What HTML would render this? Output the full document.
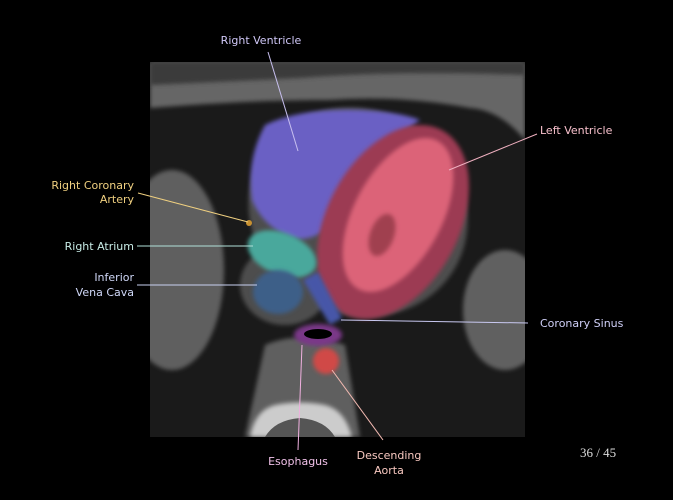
<!DOCTYPE html>
<html><head><style>
html,body{margin:0;padding:0;background:#000;}
svg{display:block}
text{font-family:"DejaVu Sans","Liberation Sans",sans-serif;font-size:11px;}
</style></head><body>
<svg width="673" height="500" viewBox="0 0 673 500" xmlns="http://www.w3.org/2000/svg">
<defs>
<filter id="b" x="-20%" y="-20%" width="140%" height="140%"><feGaussianBlur stdDeviation="2"/></filter>
<clipPath id="c"><rect x="150" y="62" width="375" height="375"/></clipPath>
</defs>
<rect width="673" height="500" fill="#000"/>
<g clip-path="url(#c)">
<rect x="150" y="62" width="375" height="375" fill="#1a1a1a"/>
<!-- chest wall -->
<path d="M150 62 H525 V140 Q500 110 470 108 Q400 95 330 100 Q250 100 150 108 Z" fill="#666" filter="url(#b)"/>
<path d="M150 62 H525 V75 Q400 70 300 78 Q220 82 150 85 Z" fill="#3a3a3a" filter="url(#b)"/>
<!-- left blob -->
<ellipse cx="172" cy="270" rx="52" ry="100" fill="#5e5e5e" filter="url(#b)"/>
<!-- right blob -->
<ellipse cx="505" cy="310" rx="42" ry="60" fill="#606060" filter="url(#b)"/>
<!-- heart -->
<ellipse cx="358" cy="212" rx="112" ry="102" transform="rotate(30 358 212)" fill="#4e4e4e" filter="url(#b)"/>
<ellipse cx="285" cy="285" rx="45" ry="40" fill="#4e4e4e" filter="url(#b)"/>
<!-- spine -->
<path d="M265 345 Q300 330 345 345 L360 437 H245 Z" fill="#5e5e5e" filter="url(#b)"/>
<path d="M250 437 Q255 410 275 405 Q300 400 325 405 Q345 410 352 437 Z" fill="#ccc" filter="url(#b)"/>
<path d="M265 437 Q275 420 300 418 Q325 420 335 437 Z" fill="#555"/>
<!-- RV -->
<path d="M265 125 Q300 108 360 110 Q400 112 420 120 L360 165 Q335 195 323 232 Q305 242 290 238 Q262 225 252 200 Q246 160 265 125 Z" fill="#6a60c4" filter="url(#b)"/>
<!-- LV -->
<ellipse cx="393" cy="222" rx="66" ry="104" transform="rotate(28 393 222)" fill="#9c3a52" filter="url(#b)"/>
<ellipse cx="398" cy="215" rx="44" ry="84" transform="rotate(28 398 215)" fill="#dc6478" filter="url(#b)"/>
<ellipse cx="382" cy="235" rx="12" ry="22" transform="rotate(20 382 235)" fill="#a04050" filter="url(#b)"/>
<!-- RA -->
<ellipse cx="282" cy="254" rx="36" ry="21" transform="rotate(22 282 254)" fill="#4aa89c" filter="url(#b)"/>
<!-- IVC -->
<ellipse cx="278" cy="292" rx="25" ry="22" fill="#3c5e88" filter="url(#b)"/>
<!-- coronary sinus -->
<path d="M303 280 L318 272 L342 318 L330 325 Z" fill="#4656a8" filter="url(#b)"/>
<!-- esophagus -->
<ellipse cx="318" cy="335" rx="24" ry="11" fill="#7a3888" filter="url(#b)"/>
<ellipse cx="318" cy="334" rx="14" ry="5" fill="#000"/>
<!-- aorta -->
<circle cx="326" cy="361" r="13" fill="#d04a46" filter="url(#b)"/>
<!-- RCA -->
<circle cx="249" cy="223" r="3" fill="#c89030"/>
</g>
<!-- lines -->
<g stroke-width="1" fill="none">
<line x1="268" y1="52" x2="298" y2="151" stroke="#c8c0f0"/>
<line x1="537" y1="134" x2="449" y2="170" stroke="#f0b0c0"/>
<line x1="138" y1="193" x2="248" y2="222" stroke="#f0d080"/>
<line x1="137" y1="246" x2="253" y2="246" stroke="#b0e0d8"/>
<line x1="137" y1="285" x2="257" y2="285" stroke="#c8d0f0"/>
<line x1="341" y1="320" x2="528" y2="323" stroke="#c8c8f0"/>
<line x1="302" y1="345" x2="298" y2="450" stroke="#f0b0e0"/>
<line x1="332" y1="370" x2="383" y2="440" stroke="#f0b8b0"/>
</g>
<!-- labels -->
<text x="261" y="44" fill="#d0c8f8" text-anchor="middle">Right Ventricle</text>
<text x="540" y="134" fill="#f8c0cc">Left Ventricle</text>
<text x="134" y="189" fill="#f0d080" text-anchor="end">Right Coronary</text>
<text x="134" y="203" fill="#f0d080" text-anchor="end">Artery</text>
<text x="134" y="250" fill="#c8ece6" text-anchor="end">Right Atrium</text>
<text x="134" y="281" fill="#d0d8f8" text-anchor="end">Inferior</text>
<text x="134" y="296" fill="#d0d8f8" text-anchor="end">Vena Cava</text>
<text x="540" y="327" fill="#d0d0f8">Coronary Sinus</text>
<text x="298" y="465" fill="#f0c0e8" text-anchor="middle">Esophagus</text>
<text x="389" y="459" fill="#f8c8c0" text-anchor="middle">Descending</text>
<text x="389" y="474" fill="#f8c8c0" text-anchor="middle">Aorta</text>
<text x="580" y="457" fill="#ddd" style="font-family:'Liberation Serif',serif;font-size:13px">36 / 45</text>
</svg>
</body></html>
